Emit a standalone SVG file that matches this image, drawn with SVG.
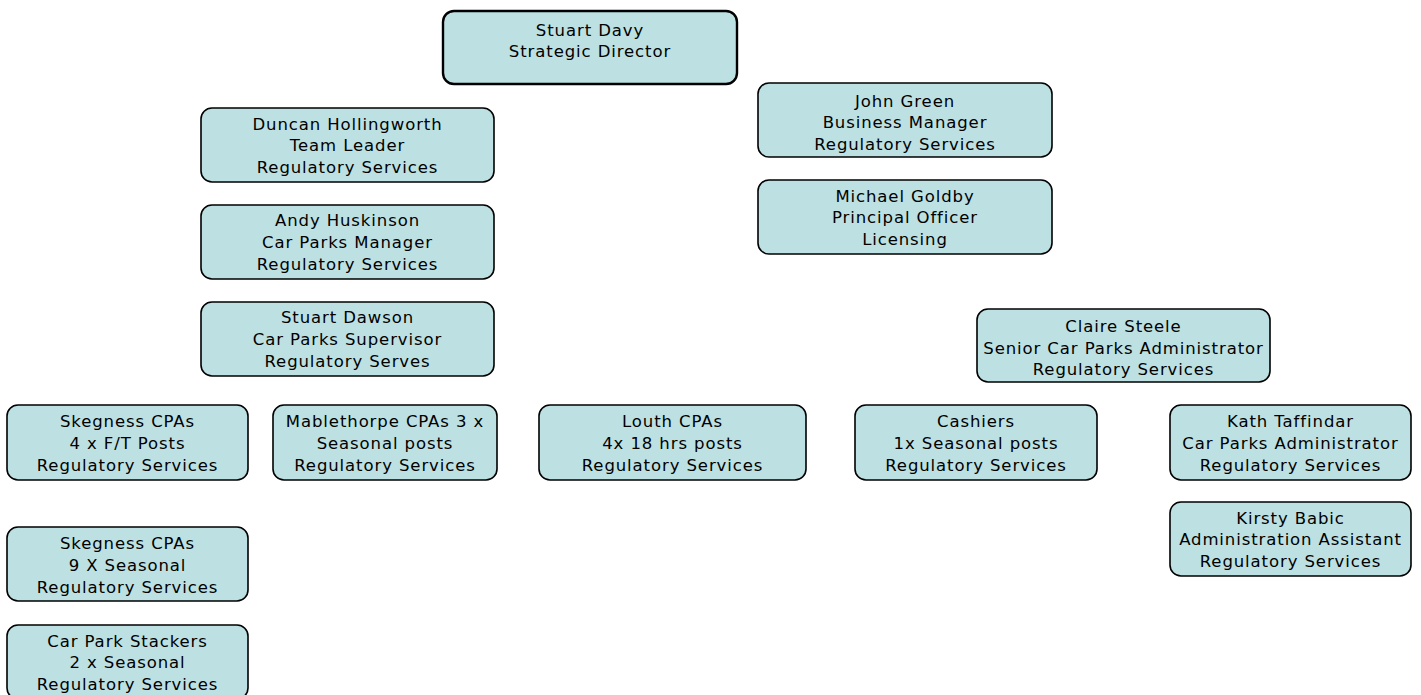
<svg xmlns="http://www.w3.org/2000/svg" width="1421" height="695" viewBox="0 0 1421 695">
<style>
.b{fill:#bde0e3;stroke:#000;stroke-width:1.6}
.t{font-family:"DejaVu Sans",Verdana,sans-serif;font-size:16.5px;letter-spacing:0.9px;fill:#000;text-anchor:middle;dominant-baseline:central}
</style>
<rect width="1421" height="695" fill="#fff"/>
<g id="connectors"></g>
<g id="n1"><rect class="b" x="443" y="11" width="294" height="73" rx="11" style="stroke-width:2.4"/><text class="t" x="590" y="30">Stuart Davy</text><text class="t" x="590" y="51">Strategic Director</text></g>
<g id="n2"><rect class="b" x="201" y="108" width="293" height="74" rx="11"/><text class="t" x="347.5" y="124">Duncan Hollingworth</text><text class="t" x="347.5" y="145">Team Leader</text><text class="t" x="347.5" y="167">Regulatory Services</text></g>
<g id="n3"><rect class="b" x="201" y="205" width="293" height="74" rx="11"/><text class="t" x="347.5" y="220">Andy Huskinson</text><text class="t" x="347.5" y="242">Car Parks Manager</text><text class="t" x="347.5" y="264">Regulatory Services</text></g>
<g id="n4"><rect class="b" x="201" y="302" width="293" height="74" rx="11"/><text class="t" x="347.5" y="317">Stuart Dawson</text><text class="t" x="347.5" y="339">Car Parks Supervisor</text><text class="t" x="347.5" y="361">Regulatory Serves</text></g>
<g id="n5"><rect class="b" x="758" y="83" width="294" height="74" rx="11"/><text class="t" x="905" y="101">John Green</text><text class="t" x="905" y="122">Business Manager</text><text class="t" x="905" y="144">Regulatory Services</text></g>
<g id="n6"><rect class="b" x="758" y="180" width="294" height="74" rx="11"/><text class="t" x="905" y="196">Michael Goldby</text><text class="t" x="905" y="217">Principal Officer</text><text class="t" x="905" y="239">Licensing</text></g>
<g id="n7"><rect class="b" x="977" y="309" width="293" height="73" rx="11"/><text class="t" x="1123.5" y="326">Claire Steele</text><text class="t" x="1123.5" y="348">Senior Car Parks Administrator</text><text class="t" x="1123.5" y="369">Regulatory Services</text></g>
<g id="n8"><rect class="b" x="7" y="405" width="241" height="75" rx="11"/><text class="t" x="127.5" y="421">Skegness CPAs</text><text class="t" x="127.5" y="443">4 x F/T Posts</text><text class="t" x="127.5" y="465">Regulatory Services</text></g>
<g id="n9"><rect class="b" x="273" y="405" width="224" height="75" rx="11"/><text class="t" x="385" y="421">Mablethorpe CPAs 3 x</text><text class="t" x="385" y="443">Seasonal posts</text><text class="t" x="385" y="465">Regulatory Services</text></g>
<g id="n10"><rect class="b" x="539" y="405" width="267" height="75" rx="11"/><text class="t" x="672.5" y="421">Louth CPAs</text><text class="t" x="672.5" y="443">4x 18 hrs posts</text><text class="t" x="672.5" y="465">Regulatory Services</text></g>
<g id="n11"><rect class="b" x="855" y="405" width="242" height="75" rx="11"/><text class="t" x="976" y="421">Cashiers</text><text class="t" x="976" y="443">1x Seasonal posts</text><text class="t" x="976" y="465">Regulatory Services</text></g>
<g id="n12"><rect class="b" x="1170" y="405" width="241" height="75" rx="11"/><text class="t" x="1290.5" y="421">Kath Taffindar</text><text class="t" x="1290.5" y="443">Car Parks Administrator</text><text class="t" x="1290.5" y="465">Regulatory Services</text></g>
<g id="n13"><rect class="b" x="1170" y="502" width="241" height="74" rx="11"/><text class="t" x="1290.5" y="518">Kirsty Babic</text><text class="t" x="1290.5" y="539">Administration Assistant</text><text class="t" x="1290.5" y="561">Regulatory Services</text></g>
<g id="n14"><rect class="b" x="7" y="527" width="241" height="74" rx="11"/><text class="t" x="127.5" y="543">Skegness CPAs</text><text class="t" x="127.5" y="565">9 X Seasonal</text><text class="t" x="127.5" y="587">Regulatory Services</text></g>
<g id="n15"><rect class="b" x="7" y="625" width="241" height="74" rx="11"/><text class="t" x="127.5" y="641">Car Park Stackers</text><text class="t" x="127.5" y="662">2 x Seasonal</text><text class="t" x="127.5" y="684">Regulatory Services</text></g>
</svg>
